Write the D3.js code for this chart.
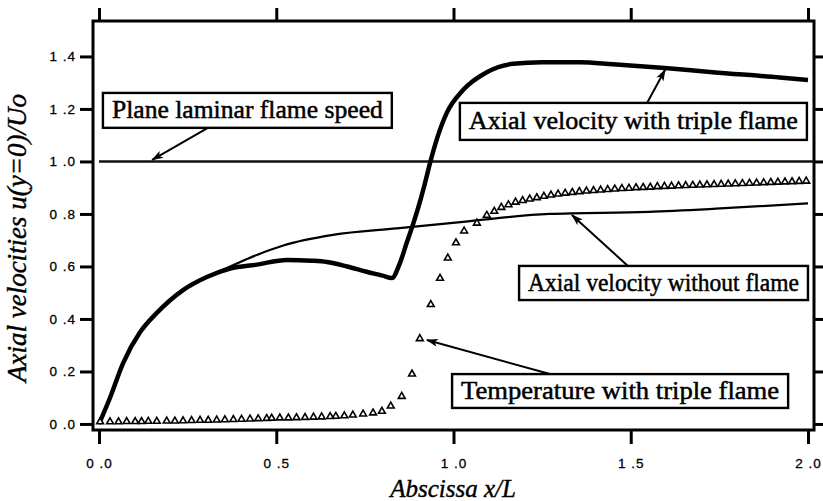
<!DOCTYPE html>
<html>
<head>
<meta charset="utf-8">
<script src="https://cdn.jsdelivr.net/npm/d3@7"></script>
<style>
  html, body { margin: 0; padding: 0; background: #fff; }
  svg { display: block; }
</style>
</head>
<body>
<svg id="chart" width="823" height="501"></svg>
<script>
// ---- Data ----
const xTickValues = [0, 0.5, 1.0, 1.5, 2.0];
const xTickLabels = ["0 .0", "0 .5", "1 .0", "1 .5", "2 .0"];
const yTickValues = [0, 0.2, 0.4, 0.6, 0.8, 1.0, 1.2, 1.4];
const yTickLabels = ["0 .0", "0 .2", "0 .4", "0 .6", "0 .8", "1 .0", "1 .2", "1 .4"];

// Axial velocity with triple flame (thick line)
const flameX = [0, 0.031, 0.068, 0.116, 0.163, 0.237, 0.304, 0.37, 0.445, 0.53, 0.60, 0.643, 0.70, 0.755, 0.80, 0.826, 0.848, 0.868, 0.888, 0.905, 0.92, 0.935, 0.953, 0.981, 1.027, 1.094, 1.168, 1.25, 1.357, 1.45, 1.596, 1.731, 1.92, 2.0];
const flameY = [0, 0.10, 0.232, 0.35, 0.423, 0.51, 0.56, 0.592, 0.607, 0.625, 0.622, 0.617, 0.60, 0.58, 0.565, 0.556, 0.61, 0.69, 0.77, 0.845, 0.92, 1.0, 1.085, 1.185, 1.272, 1.34, 1.372, 1.378, 1.378, 1.37, 1.356, 1.34, 1.32, 1.31];

// Axial velocity without flame (thin line)
const noFlameX = [0, 0.031, 0.068, 0.116, 0.163, 0.237, 0.304, 0.37, 0.445, 0.52, 0.66, 0.84, 1.027, 1.27, 1.55, 1.74, 2.0];
const noFlameY = [0, 0.10, 0.232, 0.35, 0.423, 0.51, 0.56, 0.60, 0.644, 0.68, 0.72, 0.745, 0.77, 0.80, 0.808, 0.82, 0.84];

// Plane laminar flame speed
const laminarSpeed = 1.0;

// Temperature with triple flame (triangles)
const tempX = [0.003, 0.031, 0.055, 0.078, 0.102, 0.120, 0.139, 0.163, 0.191, 0.214, 0.237, 0.261, 0.285, 0.308, 0.332, 0.355, 0.379, 0.402, 0.426, 0.449, 0.473, 0.487, 0.510, 0.534, 0.557, 0.581, 0.605, 0.628, 0.652, 0.668, 0.692, 0.716, 0.745, 0.773, 0.798, 0.823, 0.854, 0.883, 0.905, 0.936, 0.962, 0.984, 1.007, 1.030, 1.066, 1.094, 1.115, 1.135, 1.155, 1.175, 1.195, 1.215, 1.235, 1.255, 1.275, 1.295, 1.315, 1.335, 1.355, 1.375, 1.395, 1.415, 1.435, 1.455, 1.475, 1.495, 1.515, 1.535, 1.555, 1.575, 1.595, 1.615, 1.635, 1.655, 1.675, 1.695, 1.715, 1.735, 1.755, 1.775, 1.795, 1.815, 1.835, 1.855, 1.875, 1.895, 1.915, 1.935, 1.955, 1.975, 1.995];
const tempY = [0.008, 0.008, 0.008, 0.009, 0.009, 0.009, 0.010, 0.010, 0.011, 0.011, 0.012, 0.013, 0.014, 0.014, 0.015, 0.016, 0.017, 0.018, 0.019, 0.020, 0.021, 0.022, 0.023, 0.023, 0.024, 0.025, 0.026, 0.027, 0.028, 0.029, 0.031, 0.034, 0.038, 0.042, 0.048, 0.068, 0.105, 0.19, 0.325, 0.455, 0.555, 0.632, 0.69, 0.735, 0.765, 0.795, 0.81, 0.825, 0.835, 0.845, 0.851, 0.857, 0.862, 0.867, 0.872, 0.876, 0.879, 0.882, 0.885, 0.887, 0.889, 0.891, 0.893, 0.895, 0.897, 0.898, 0.900, 0.901, 0.902, 0.904, 0.905, 0.906, 0.907, 0.908, 0.909, 0.910, 0.911, 0.912, 0.913, 0.914, 0.915, 0.916, 0.917, 0.918, 0.919, 0.920, 0.921, 0.922, 0.923, 0.924, 0.925];

// Annotation labels and their box / arrow anchors (data units)
const annoText = ["Plane laminar flame speed", "Axial velocity with triple flame", "Axial velocity without flame", "Temperature with triple flame"];
const annoBoxX0 = [0.011, 1.018, 1.185, 0.996];
const annoBoxX1 = [0.826, 1.997, 2.000, 1.944];
const annoBoxY0 = [1.261, 1.223, 0.602, 0.190];
const annoBoxY1 = [1.128, 1.082, 0.472, 0.061];
const arrowFromX = [0.307, 1.546, 1.492, 1.272];
const arrowFromY = [1.128, 1.223, 0.602, 0.190];
const arrowToX = [0.150, 1.597, 1.334, 0.925];
const arrowToY = [1.006, 1.349, 0.796, 0.320];

// ---- Chart ----
const svg = d3.select("#chart");
const x = d3.scaleLinear().domain([-0.017, 2.017]).range([93, 814]);
const y = d3.scaleLinear().domain([-0.023, 1.535]).range([430, 21]);

const defs = svg.append("defs");
defs.append("marker")
  .attr("id", "arrow")
  .attr("markerUnits", "userSpaceOnUse")
  .attr("viewBox", "0 0 12 8")
  .attr("markerWidth", 13).attr("markerHeight", 8)
  .attr("refX", 11).attr("refY", 4)
  .attr("orient", "auto")
  .append("path").attr("d", "M0,0 L12,4 L0,8 L3,4 Z").attr("fill", "#000");

// axes
function styleAxis(g) {
  g.select(".domain").remove();
  g.selectAll(".tick line").attr("stroke", "#000").attr("stroke-width", 3);
  g.selectAll(".tick text")
    .attr("fill", "#000")
    .attr("stroke", "#000").attr("stroke-width", 0.3)
    .style("font-family", "'Liberation Sans', Arial, sans-serif")
    .style("font-size", "13.5px")
    .style("letter-spacing", "1px");
}
svg.append("g").attr("transform", `translate(${x.range()[0]},0)`)
  .call(d3.axisLeft(y).tickValues(yTickValues).tickFormat((d, i) => yTickLabels[i]).tickSize(13).tickPadding(4))
  .call(styleAxis);
svg.append("g").attr("transform", `translate(${x.range()[1]},0)`)
  .call(d3.axisRight(y).tickValues(yTickValues).tickFormat("").tickSize(10))
  .call(styleAxis);
svg.append("g").attr("transform", `translate(0,${y.range()[0]})`)
  .call(d3.axisBottom(x).tickValues(xTickValues).tickFormat((d, i) => xTickLabels[i]).tickSize(14).tickPadding(14))
  .call(styleAxis);
svg.append("g").attr("transform", `translate(0,${y.range()[1]})`)
  .call(d3.axisTop(x).tickValues(xTickValues).tickFormat("").tickSize(13))
  .call(styleAxis);

// frame
svg.append("rect")
  .attr("x", x.range()[0]).attr("y", y.range()[1])
  .attr("width", x.range()[1] - x.range()[0])
  .attr("height", y.range()[0] - y.range()[1])
  .attr("fill", "none").attr("stroke", "#000").attr("stroke-width", 3);

// plane laminar flame speed line
svg.append("line")
  .attr("x1", x(0)).attr("x2", x.range()[1])
  .attr("y1", y(laminarSpeed)).attr("y2", y(laminarSpeed))
  .attr("stroke", "#111").attr("stroke-width", 2.6);

const line = d3.line().x(d => x(d[0])).y(d => y(d[1])).curve(d3.curveMonotoneX);

svg.append("path")
  .datum(noFlameX.map((v, i) => [v, noFlameY[i]]))
  .attr("d", line).attr("fill", "none").attr("stroke", "#000").attr("stroke-width", 2.2);

svg.append("path")
  .datum(flameX.map((v, i) => [v, flameY[i]]))
  .attr("d", line).attr("fill", "none").attr("stroke", "#000").attr("stroke-width", 4.5)
  .attr("stroke-linejoin", "round");

// triangles
const tri = d3.symbol().type(d3.symbolTriangle).size(20);
svg.append("g").selectAll("path")
  .data(tempX.map((v, i) => [v, tempY[i]]))
  .join("path")
  .attr("transform", d => `translate(${x(d[0])},${y(d[1])})`)
  .attr("d", tri)
  .attr("fill", "#fff").attr("stroke", "#000").attr("stroke-width", 1.6);

// annotations
annoText.forEach((t, i) => {
  const bx = x(annoBoxX0[i]), by = y(annoBoxY0[i]);
  const bw = x(annoBoxX1[i]) - bx, bh = y(annoBoxY1[i]) - by;
  svg.append("line")
    .attr("x1", x(arrowFromX[i])).attr("y1", y(arrowFromY[i]))
    .attr("x2", x(arrowToX[i])).attr("y2", y(arrowToY[i]))
    .attr("stroke", "#000").attr("stroke-width", 2)
    .attr("marker-end", "url(#arrow)");
  svg.append("rect")
    .attr("x", bx).attr("y", by).attr("width", bw).attr("height", bh)
    .attr("fill", "#fff").attr("stroke", "#000").attr("stroke-width", 2.4);
  svg.append("text")
    .attr("x", bx + bw / 2).attr("y", by + bh / 2 + 8)
    .attr("text-anchor", "middle")
    .attr("textLength", bw - 18)
    .attr("lengthAdjust", "spacingAndGlyphs")
    .style("font-family", "'Liberation Serif', 'Times New Roman', serif")
    .style("font-size", "25px")
    .attr("stroke", "#000").attr("stroke-width", 0.5)
    .attr("fill", "#000")
    .text(t);
});

// axis titles
svg.append("text")
  .attr("transform", "translate(26,238) rotate(-90)")
  .attr("text-anchor", "middle")
  .style("font-family", "'Liberation Serif', 'Times New Roman', serif")
  .style("font-style", "italic")
  .style("font-size", "27px")
  .attr("stroke", "#000").attr("stroke-width", 0.4)
  .attr("fill", "#000")
  .text("Axial velocities u(y=0)/Uo");

svg.append("text")
  .attr("x", 453).attr("y", 497)
  .attr("text-anchor", "middle")
  .style("font-family", "'Liberation Serif', 'Times New Roman', serif")
  .style("font-style", "italic")
  .style("font-size", "25px")
  .attr("stroke", "#000").attr("stroke-width", 0.4)
  .attr("fill", "#000")
  .text("Abscissa x/L");
</script>
</body>
</html>
